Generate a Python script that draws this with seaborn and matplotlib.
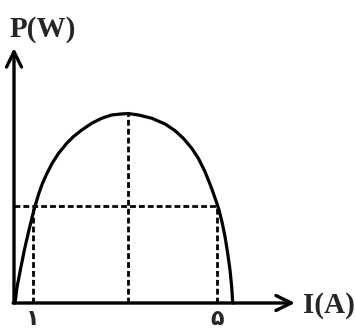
import matplotlib
matplotlib.use("Agg")
import matplotlib.pyplot as plt
import numpy as np
import seaborn as sns

# Power delivered versus current (schematic P–I curve)
I_curve = [0.610, 0.655, 0.740, 0.813, 0.896, 0.983, 1.041, 1.128, 1.206, 1.304,
           1.416, 1.555, 1.733, 1.876, 2.059, 2.275, 2.492, 2.709, 2.924, 3.061,
           3.284, 3.575, 3.863, 4.080, 4.260, 4.443, 4.586, 4.731, 4.861, 4.963,
           5.035, 5.106, 5.165, 5.223, 5.273, 5.310, 5.332]
P_curve = [0.000, 0.840, 1.871, 2.732, 3.593, 4.448, 4.964, 5.655, 6.170, 6.686,
           7.201, 7.716, 8.232, 8.572, 8.918, 9.263, 9.521, 9.691, 9.742, 9.763,
           9.691, 9.521, 9.227, 8.881, 8.490, 7.974, 7.459, 6.768, 5.995, 5.309,
           4.794, 4.108, 3.418, 2.562, 1.701, 0.840, 0.000]

I_marks = [1, 5]
I_labels = ["۱", "۵"]
P_equal = 5.0          # same power at both marked currents

x_label = "I(A)"
y_label = "P(W)"

sns.set_style("white")

fig = plt.figure(figsize=(3.55, 3.35), dpi=100)
ax = fig.add_axes([14 / 355, 32 / 335, 281 / 355, 255 / 335])
x0, x1 = 0.588, 6.683
y0, y1 = 0.0, 13.14
ax.set_xlim(x0, x1)
ax.set_ylim(y0, y1)
for s in ax.spines.values():
    s.set_visible(False)

sns.lineplot(x=I_curve, y=P_curve, sort=False, estimator=None, color="black",
             linewidth=2.3, ax=ax, clip_on=False, solid_joinstyle="round",
             solid_capstyle="round")

# guide lines
k = int(np.argmax(P_curve))
I_peak, P_peak = I_curve[k], P_curve[k]
dash = dict(color="black", linewidth=2.0, linestyle=(0, (2.1, 1.1)), clip_on=False)
ax.plot([x0, I_marks[1]], [P_equal, P_equal], **dash)
for xi in I_marks:
    ax.plot([xi, xi], [0, P_equal], **dash)
ax.plot([I_peak, I_peak], [0, P_peak], **dash)

# arrowed axes
arrow = dict(arrowstyle="->,head_length=11,head_width=5.4", lw=2.4, color="black",
             shrinkA=0, shrinkB=0, mutation_scale=1)
ax.annotate("", xy=(x1, y0), xytext=(x0 - 0.02, y0), arrowprops=arrow,
            annotation_clip=False)
ax.annotate("", xy=(x0, y1), xytext=(x0, y0), arrowprops=arrow,
            annotation_clip=False)

ax.set_xticks(I_marks, I_labels)
ax.set_yticks([])
ax.tick_params(axis="x", length=0, pad=4, labelsize=16)
for t in ax.get_xticklabels():
    t.set_fontfamily("DejaVu Sans")
    t.set_fontweight("bold")

lab = dict(fontfamily="Liberation Serif", fontweight="bold", fontsize=21)
fig.text(10 / 355, 1 - 37 / 335, y_label, ha="left", va="baseline", **lab)
fig.text(303 / 355, 1 - 313 / 335, x_label, ha="left", va="baseline", **lab)

fig.savefig("out.png", dpi=100)
